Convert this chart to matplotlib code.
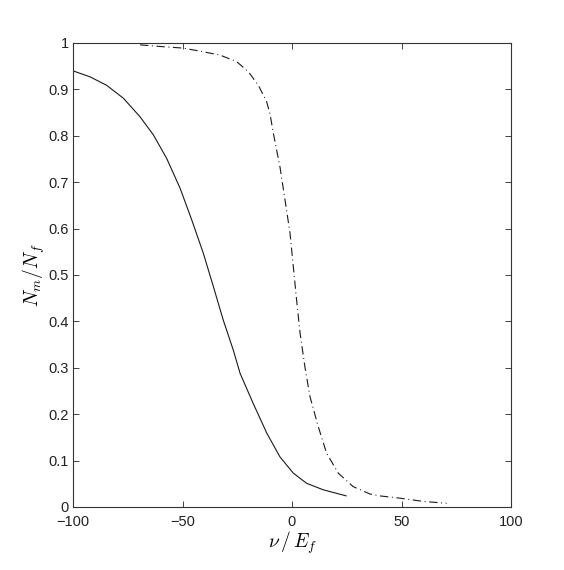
import matplotlib
matplotlib.use('Agg')
import matplotlib.pyplot as plt

# values
solid_x = [-100, -92.2, -84.7, -77, -69.4, -63.3, -57.2, -51.1, -45.8, -40.5, -35.9,
           -31.4, -26.8, -23.7, -17.7, -11.5, -5.5, 0.6, 6.7, 14.3, 24.7]
solid_y = [0.940, 0.927, 0.909, 0.881, 0.841, 0.802, 0.751, 0.687, 0.619, 0.547, 0.475,
           0.403, 0.338, 0.288, 0.223, 0.159, 0.108, 0.073, 0.051, 0.037, 0.024]

dashdot_x = [-69.4, -58.8, -49.6, -40.5, -32.9, -25.3, -19.9, -15.4, -11.6, -10.0, -8.5,
             -5.5, -3.2, -0.9, 0.6, 2.1, 3.7, 5.9, 8.2, 12.0, 15.8, 21.1, 27.9, 35.6,
             40, 49.3, 60, 70.6]
dashdot_y = [0.996, 0.992, 0.989, 0.981, 0.974, 0.960, 0.938, 0.909, 0.874, 0.846, 0.805,
             0.733, 0.662, 0.590, 0.518, 0.446, 0.374, 0.302, 0.238, 0.173, 0.116, 0.073,
             0.044, 0.028, 0.024, 0.019, 0.012, 0.008]

x_ticks = [-100, -50, 0, 50, 100]
y_ticks = [0, 0.1, 0.2, 0.3, 0.4, 0.5, 0.6, 0.7, 0.8, 0.9, 1]
y_tick_labels = ['0', '0.1', '0.2', '0.3', '0.4', '0.5', '0.6', '0.7', '0.8', '0.9', '1']

plt.rcParams['font.family'] = ['Liberation Sans', 'DejaVu Sans']
plt.rcParams['mathtext.fontset'] = 'cm'
plt.rcParams['lines.scale_dashes'] = False

fig = plt.figure(figsize=(5.64, 5.70), dpi=100)
ax = fig.add_axes([73 / 564, 63 / 570, 438 / 564, 464 / 570])

ax.plot(solid_x, solid_y, color='#1a1a1a', lw=0.8)
ax.plot(dashdot_x, dashdot_y, color='#1a1a1a', lw=0.8,
        linestyle=(0, (6.0, 2.6, 0.7, 2.6)))

ax.set_xlim(-100, 100)
ax.set_ylim(0, 1)
ax.set_xticks(x_ticks)
ax.set_yticks(y_ticks)
ax.set_yticklabels(y_tick_labels)
ax.tick_params(direction='in', length=4, width=0.6, top=True, right=True,
               labelsize=10.5, colors='#222222')
ax.tick_params(axis='y', pad=3)
ax.tick_params(axis='x', pad=6)
for sp in ax.spines.values():
    sp.set_linewidth(0.8)
    sp.set_color('#333333')

ax.set_xlabel(r'$\nu\,/\,E_f$', fontsize=14, labelpad=0)
ax.set_ylabel(r'$N_m/N_f$', fontsize=14, labelpad=1)

fig.savefig('out.png', dpi=100)
